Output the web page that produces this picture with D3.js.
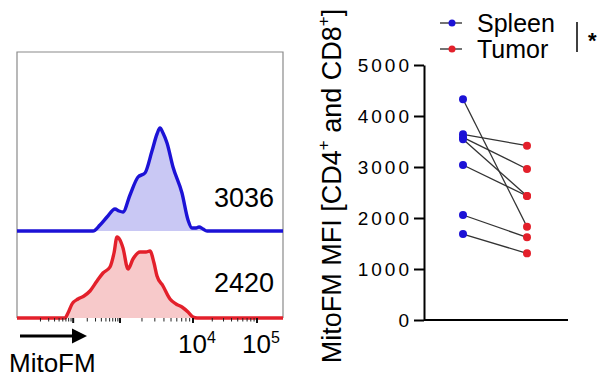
<!DOCTYPE html>
<html>
<head>
<meta charset="utf-8">
<script src="https://cdn.jsdelivr.net/npm/d3@7"></script>
<style>
  html, body { margin: 0; padding: 0; background: #fff; }
  svg { display: block; }
  text { font-family: "Liberation Sans", Arial, Helvetica, sans-serif; fill: #000; }
</style>
</head>
<body>
<svg id="chart" width="605" height="379"></svg>
<script>
// ---------------- DATA ----------------
// Histogram (MitoFM intensity, log10 units) and relative event counts
const spleenHistLog   = [2.423, 2.573, 2.722, 2.893, 2.979, 3.041, 3.137, 3.247, 3.342, 3.438, 3.507, 3.548, 3.589, 3.644, 3.726, 3.849, 3.932, 3.986, 4.047, 4.094, 4.156, 4.219];
const spleenHistCount = [0,     6,     14,    22,    20,    19,    36,    54,    58,    80,    97,    103,   98,    88,    64,    38,    11,    3,     3,     4,     2,     0];
const tumorHistLog    = [1.825, 1.889, 1.975, 2.103, 2.231, 2.359, 2.509, 2.637, 2.786, 2.872, 2.936, 3.0, 3.041, 3.110, 3.178, 3.274, 3.356, 3.411, 3.466, 3.507, 3.589, 3.685, 3.767, 3.849, 3.932, 4.0, 4.063];
const tumorHistCount  = [0,     5,     14,    19,    22,    27,    37,    45,    51,    65,    81,    78,  70,    49,    59,    66,    66,    67,    55,    42,    32,    19,    14,    11,    6,     1,   0];
const histLabels = ["3036", "2420"];
const flowMajorTicks = [2, 3, 4, 5];
const flowTickLabels = [{ exp: 4, base: "10", sup: "4" }, { exp: 5, base: "10", sup: "5" }];
const axisTitleLeft = "MitoFM";

// Paired MFI values
const groups = ["Spleen", "Tumor"];
const spleenMFI = [4327, 3641, 3582, 3543, 3039, 2059, 1686];
const tumorMFI  = [1830, 3418, 2961, 2431, 2431, 1621, 1307];
const yTicks = [0, 1000, 2000, 3000, 4000, 5000];
const significance = "*";

// ---------------- STYLE ----------------
const blue = "#1c12d6", blueFill = "#c9c8f4";
const red = "#e3202b", redFill = "#f7c9ca";

const svg = d3.select("#chart");

// ============ LEFT PANEL: histograms ============
const boxL = 17, boxR = 283, boxT = 52;
const blueBase = 231, redBase = 318;
const xFlow = d3.scaleLinear().domain([0.8, 3, 4, 5, 5.4]).range([boxL, 120, 193, 257, boxR]).clamp(true);
const hScale = d3.scaleLinear().domain([0, 100]).range([0, 100]);

// Box frame
svg.append("path")
  .attr("d", `M${boxL},${redBase} V${boxT} H${boxR} V${redBase}`)
  .attr("fill", "none").attr("stroke", "#8a8a8a").attr("stroke-width", 1.2);

function drawHist(logs, counts, base, stroke, fill) {
  const pts = logs.map((v, i) => [xFlow(v), base - hScale(counts[i])]);
  const full = [[boxL, base], ...pts, [boxR, base]];
  const area = d3.area().x(d => d[0]).y0(base).y1(d => d[1]).curve(d3.curveMonotoneX);
  const line = d3.line().x(d => d[0]).y(d => d[1]).curve(d3.curveMonotoneX);
  svg.append("path").attr("d", area(pts)).attr("fill", fill);
  svg.append("path").attr("d", line(full)).attr("fill", "none")
    .attr("stroke", stroke).attr("stroke-width", 3.4).attr("stroke-linejoin", "round");
}
drawHist(spleenHistLog, spleenHistCount, blueBase, blue, blueFill);
drawHist(tumorHistLog, tumorHistCount, redBase, red, redFill);

// Flow axis ticks (log decades)
const minorTicks = [];
[1, 2, 3, 4].forEach(k => { for (let m = 2; m <= 9; m++) minorTicks.push(k + Math.log10(m)); });
const flowAxis = svg.append("g").attr("transform", `translate(0,${redBase})`);
flowAxis.selectAll("line.minor").data(minorTicks.filter(v => xFlow(v) > boxL + 2 && xFlow(v) < boxR - 2))
  .enter().append("line").attr("class", "minor")
  .attr("x1", d => xFlow(d)).attr("x2", d => xFlow(d)).attr("y1", 0).attr("y2", 3.5)
  .attr("stroke", "#222").attr("stroke-width", 1);
flowAxis.selectAll("line.major").data(flowMajorTicks)
  .enter().append("line").attr("class", "major")
  .attr("x1", d => xFlow(d)).attr("x2", d => xFlow(d)).attr("y1", 0).attr("y2", 5)
  .attr("stroke", "#111").attr("stroke-width", 2);

flowTickLabels.forEach(t => {
  const tx = svg.append("text").attr("x", xFlow(t.exp) - 15).attr("y", 353)
    .attr("font-size", 26);
  tx.append("tspan").text(t.base);
  tx.append("tspan").attr("font-size", 16).attr("dy", -10).text(t.sup);
});

// Labels inside histogram
svg.append("text").attr("x", 274).attr("y", 207).attr("text-anchor", "end").attr("font-size", 27).text(histLabels[0]);
svg.append("text").attr("x", 274).attr("y", 292).attr("text-anchor", "end").attr("font-size", 27).text(histLabels[1]);

// Arrow + axis title
svg.append("line").attr("x1", 20).attr("x2", 74).attr("y1", 336).attr("y2", 336)
  .attr("stroke", "#000").attr("stroke-width", 3);
svg.append("path").attr("d", "M72,328.5 L87,336 L72,343.5 Z").attr("fill", "#000");
svg.append("text").attr("x", 9).attr("y", 372).attr("font-size", 26).text(axisTitleLeft);

// ============ RIGHT PANEL: paired dots ============
const y = d3.scaleLinear().domain([0, 5000]).range([320, 65]);
const x = d3.scalePoint().domain(groups).range([463, 527]);
const axisX = 424;

const yAxis = svg.append("g").attr("transform", `translate(${axisX},0)`)
  .call(d3.axisLeft(y).tickValues(yTicks).tickSize(10).tickSizeOuter(0).tickPadding(5).tickFormat(d3.format("d")));
yAxis.select(".domain").attr("stroke", "#000").attr("stroke-width", 2);
yAxis.selectAll(".tick line").attr("stroke", "#000").attr("stroke-width", 2);
yAxis.selectAll(".tick text").attr("font-size", 19).attr("letter-spacing", "3px")
  .attr("dx", 3).attr("dy", "0.36em")
  .style("font-family", "'Liberation Sans', Arial, sans-serif").attr("fill", "#000");

// baseline (x axis)
svg.append("line").attr("x1", axisX).attr("x2", 568).attr("y1", y(0)).attr("y2", y(0))
  .attr("stroke", "#000").attr("stroke-width", 2);

// pair lines
const pairs = spleenMFI.map((v, i) => ({ a: v, b: tumorMFI[i] }));
svg.selectAll("line.pair").data(pairs).enter().append("line").attr("class", "pair")
  .attr("x1", x(groups[0])).attr("x2", x(groups[1]))
  .attr("y1", d => y(d.a)).attr("y2", d => y(d.b))
  .attr("stroke", "#333").attr("stroke-width", 1.3);

svg.selectAll("circle.sp").data(spleenMFI).enter().append("circle").attr("class", "sp")
  .attr("cx", x(groups[0])).attr("cy", d => y(d)).attr("r", 4).attr("fill", blue);
svg.selectAll("circle.tu").data(tumorMFI).enter().append("circle").attr("class", "tu")
  .attr("cx", x(groups[1])).attr("cy", d => y(d)).attr("r", 4).attr("fill", red);

// Y-axis title
const yt = svg.append("text").attr("transform", "translate(341,186) rotate(-90)")
  .attr("text-anchor", "middle").attr("font-size", 27);
yt.append("tspan").text("MitoFM MFI [CD4");
yt.append("tspan").attr("font-size", 17).attr("dy", -12).text("+");
yt.append("tspan").attr("dy", 12).text(" and CD8");
yt.append("tspan").attr("font-size", 17).attr("dy", -12).text("+");
yt.append("tspan").attr("dy", 12).text("]");

// Legend
const legendColors = [blue, red];
const legend = svg.selectAll("g.leg").data(groups).enter().append("g").attr("class", "leg")
  .attr("transform", (d, i) => `translate(440,${23 + i * 26})`);
legend.append("line").attr("x1", 0).attr("x2", 22).attr("y1", 0).attr("y2", 0)
  .attr("stroke", "#444").attr("stroke-width", 1.5);
legend.append("circle").attr("cx", 12).attr("cy", 0).attr("r", 3.5).attr("fill", (d, i) => legendColors[i]);
legend.append("text").attr("x", 37).attr("y", 9).attr("font-size", 25).text(d => d);

svg.append("line").attr("x1", 577).attr("x2", 577).attr("y1", 22).attr("y2", 52)
  .attr("stroke", "#000").attr("stroke-width", 1.5);
svg.append("text").attr("x", 588).attr("y", 48).attr("font-size", 22).attr("font-weight", "bold").text(significance);
</script>
</body>
</html>
